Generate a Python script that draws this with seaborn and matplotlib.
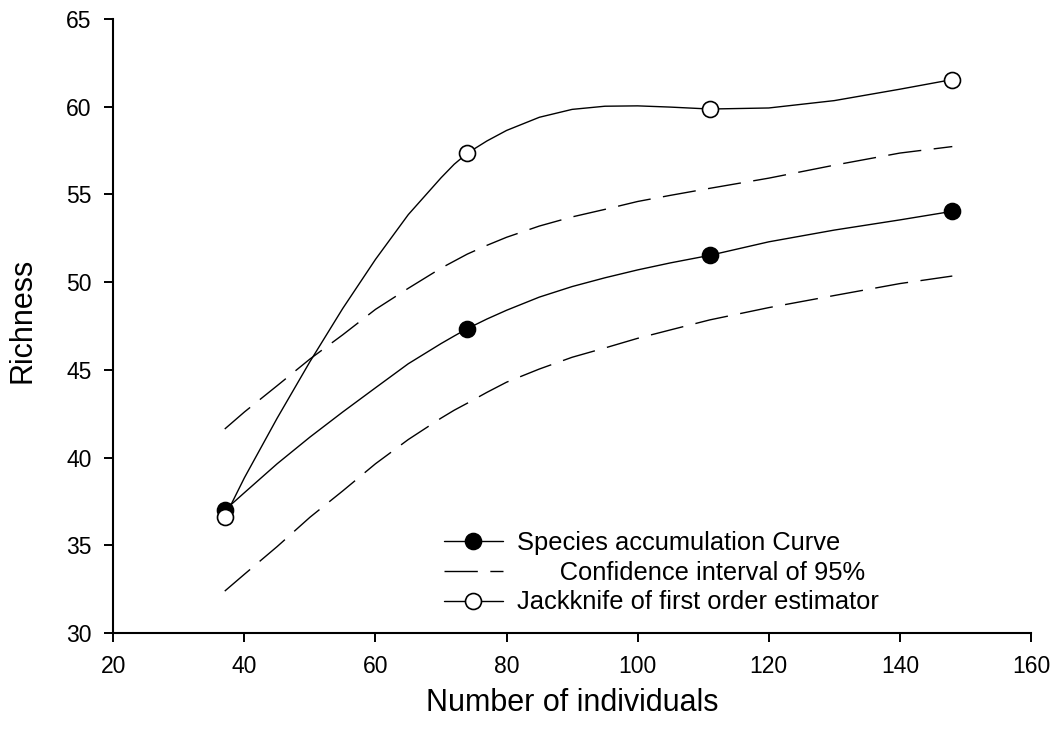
import matplotlib
matplotlib.use("Agg")
import matplotlib.pyplot as plt
import seaborn as sns

# values (number of individuals -> richness)
individuals = [37, 40, 45, 50, 55, 60, 65, 70, 72, 74, 77, 80, 85, 90, 95, 100, 105, 111, 120, 130, 140, 148]
species_acc = [37.0, 38.0, 39.65, 41.17, 42.6, 43.98, 45.35, 46.5, 46.93, 47.35, 47.9, 48.4, 49.15, 49.75,
               50.25, 50.7, 51.1, 51.53, 52.3, 52.97, 53.55, 54.04]
ci_upper = [41.63, 42.6, 44.1, 45.62, 47.0, 48.45, 49.65, 50.8, 51.2, 51.6, 52.1, 52.56, 53.2, 53.72,
            54.15, 54.6, 54.95, 55.35, 55.93, 56.67, 57.36, 57.73]
ci_lower = [32.39, 33.35, 34.93, 36.6, 38.1, 39.65, 41.03, 42.25, 42.7, 43.1, 43.72, 44.3, 45.05, 45.72,
            46.25, 46.8, 47.28, 47.85, 48.55, 49.24, 49.92, 50.35]
jackknife = [36.6, 38.85, 42.25, 45.47, 48.5, 51.3, 53.85, 55.95, 56.72, 57.35, 58.05, 58.65, 59.4, 59.85,
             60.03, 60.05, 59.98, 59.87, 59.93, 60.35, 61.0, 61.55]
# positions of the sampled points (markers at 37, 74, 111, 148)
sample_idx = [0, 9, 17, 21]

x_ticks = [20, 40, 60, 80, 100, 120, 140, 160]
y_ticks = [30, 35, 40, 45, 50, 55, 60, 65]

sns.set_theme(style="ticks")
plt.rcParams["font.family"] = ["Liberation Sans", "DejaVu Sans"]
plt.rcParams["text.color"] = "black"
plt.rcParams["axes.labelcolor"] = "black"

fig = plt.figure(figsize=(10.56, 7.32), dpi=100)
ax = fig.add_subplot(111)
fig.subplots_adjust(left=0.1073, right=0.9763, bottom=0.1352, top=0.974)

dash = (0, (24, 9))
sns.lineplot(x=individuals, y=species_acc, ax=ax, color="black", lw=1.0, marker="o", ms=11.5,
             mfc="black", mec="black", mew=1.2, markevery=sample_idx, label="Species accumulation Curve")
sns.lineplot(x=individuals, y=ci_upper, ax=ax, color="black", lw=1.0, linestyle=dash,
             label="      Confidence interval of 95%")
sns.lineplot(x=individuals, y=ci_lower, ax=ax, color="black", lw=1.0, linestyle=dash)
sns.lineplot(x=individuals, y=jackknife, ax=ax, color="black", lw=1.0, marker="o", ms=11.5,
             mfc="white", mec="black", mew=1.2, markevery=sample_idx,
             label="Jackknife of first order estimator")

ax.set_xlim(20, 160)
ax.set_ylim(30, 65)
ax.set_xticks(x_ticks)
ax.set_yticks(y_ticks)
ax.tick_params(direction="out", length=6.5, width=1.4, labelsize=16.5, pad=9, color="black", labelcolor="black")
for s in ["top", "right"]:
    ax.spines[s].set_visible(False)
for s in ["left", "bottom"]:
    ax.spines[s].set_linewidth(1.5)
    ax.spines[s].set_color("black")

ax.set_xlabel("Number of individuals", fontsize=22, color="black")
ax.set_ylabel("Richness", fontsize=22, color="black")
ax.xaxis.set_label_coords(0.5, -0.09)
ax.yaxis.set_label_coords(-0.083, 0.51)

handles, labels = ax.get_legend_handles_labels()
leg = ax.legend(handles, labels, loc="center left", bbox_to_anchor=(0.3604, 0.098), frameon=False,
                fontsize=18.4, handlelength=2.3, handletextpad=0.55, labelspacing=0.22,
                borderpad=0, borderaxespad=0, numpoints=1)
for t in leg.get_texts():
    t.set_color("black")

fig.savefig("out.png", dpi=100)
